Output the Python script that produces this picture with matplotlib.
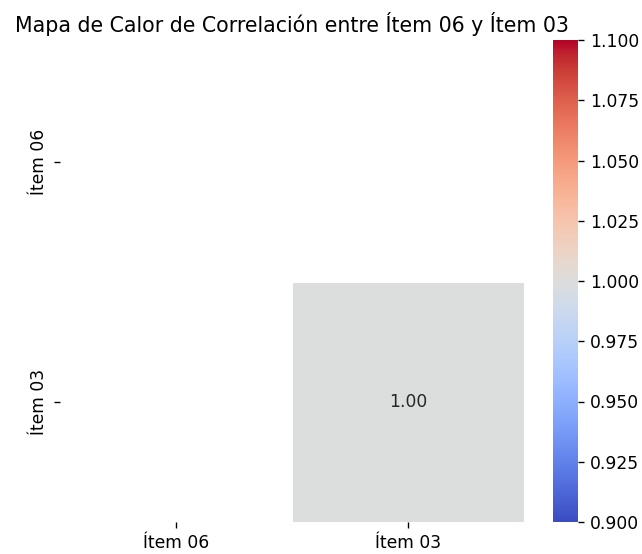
import numpy as np
import matplotlib
matplotlib.use("Agg")
import matplotlib.pyplot as plt
import seaborn as sns

labels = ["Ítem 06", "Ítem 03"]
corr = np.array([[np.nan, np.nan],
                 [np.nan, 1.0]])
mask = np.triu(np.ones_like(corr, dtype=bool), k=1)

DPI = 123
W, H = 642, 554
fig = plt.figure(figsize=(W / DPI, H / DPI), dpi=DPI)
ax = fig.add_axes([60 / W, 1 - 522 / H, (524 - 60) / W, (522 - 42) / H])
cax = fig.add_axes([553 / W, 1 - 522 / H, (578 - 553) / W, (522 - 40) / H])

sns.heatmap(corr, mask=mask, annot=True, fmt=".2f", cmap="coolwarm",
            vmin=0.9, vmax=1.1, linewidths=0.5, linecolor="white",
            xticklabels=labels, yticklabels=labels, ax=ax, cbar_ax=cax)
ax.set_title("Mapa de Calor de Correlación entre Ítem 06 y Ítem 03", fontsize=12, pad=6)
cax.yaxis.set_major_formatter(matplotlib.ticker.FormatStrFormatter("%.3f"))
fig.savefig("out.png", dpi=DPI)
